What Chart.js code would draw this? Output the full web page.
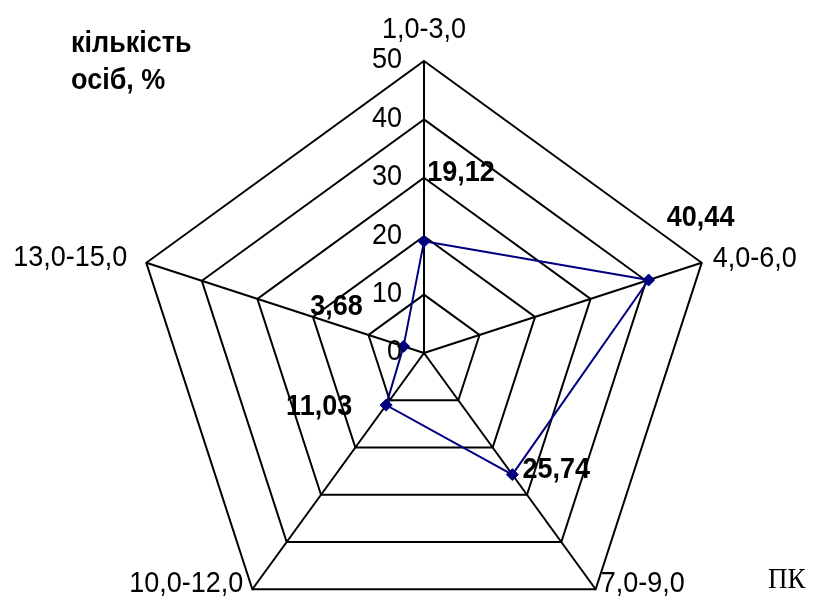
<!DOCTYPE html>
<html lang="uk">
<head>
<meta charset="utf-8">
<title>Розподіл за ПК</title>
<script src="https://cdn.jsdelivr.net/npm/chart.js@4/dist/chart.umd.min.js"></script>
<style>
    html, body {
        margin: 0;
        padding: 0;
        background: #ffffff;
        overflow: hidden;
    }
    #wrap {
        position: relative;
        width: 816px;
        height: 610px;
        overflow: hidden;
    }
    #pk-chart {
        position: absolute;
        left: 0;
        top: 0;
    }
</style>
</head>
<body>
<div id="wrap">
    <canvas id="pk-chart" width="816" height="706"></canvas>
</div>
<script>
const categories = ['1,0-3,0', '4,0-6,0', '7,0-9,0', '10,0-12,0', '13,0-15,0'];
const shares = [19.12, 40.44, 25.74, 11.03, 3.68];
const tickValues = [0, 10, 20, 30, 40, 50];

const axisTitle = ['кількість', 'осіб, %'];
const unitTitle = 'ПК';

const SANS = '"Liberation Sans", Arial, sans-serif';
const SERIF = '"Liberation Serif", "Times New Roman", serif';
// glyphs are a little taller than they are wide
const TEXT_STRETCH = 1.12;

// where each category caption sits relative to its outer vertex
const categoryLabelOffsets = [
    { dx: 0, dy: -31, align: 'center' },
    { dx: 11, dy: -4, align: 'left' },
    { dx: 5, dy: -6, align: 'left' },
    { dx: -9, dy: -6, align: 'right' },
    { dx: -19, dy: -5, align: 'right' },
];

// value captions, shifted from their markers
const valueLabelOffsets = [
    { dx: 37, dy: -69 },
    { dx: 52, dy: -62 },
    { dx: 44, dy: -5 },
    { dx: -67, dy: 2 },
    { dx: -67, dy: -40 },
];

function formatValue(value) {
    return value.toFixed(2).replace('.', ',');
}

function stretchedText(ctx, text, x, y) {
    ctx.save();
    ctx.translate(x, y);
    ctx.scale(1, TEXT_STRETCH);
    ctx.fillText(text, 0, 0);
    ctx.restore();
}

const textPlugin = {
    id: 'radarText',
    afterDraw(chart) {
        const { ctx } = chart;
        const scale = chart.scales.r;
        ctx.save();
        ctx.fillStyle = '#000000';
        ctx.textBaseline = 'middle';

        // tick values along the first spoke
        ctx.font = `27px ${SANS}`;
        ctx.textAlign = 'right';
        tickValues.forEach((value) => {
            const pos = scale.getPointPositionForValue(0, value);
            stretchedText(ctx, String(value), pos.x - 22, pos.y - 1);
        });

        // category captions at the outer vertices
        categories.forEach((label, index) => {
            const pos = scale.getPointPositionForValue(index, scale.max);
            const offset = categoryLabelOffsets[index];
            ctx.textAlign = offset.align;
            stretchedText(ctx, label, pos.x + offset.dx, pos.y + offset.dy);
        });

        // bold value captions
        const meta = chart.getDatasetMeta(0);
        ctx.font = `bold 27px ${SANS}`;
        ctx.textAlign = 'center';
        meta.data.forEach((point, index) => {
            const offset = valueLabelOffsets[index];
            stretchedText(ctx, formatValue(shares[index]), point.x + offset.dx, point.y + offset.dy);
        });

        // axis title, top left
        ctx.font = `bold 27px ${SANS}`;
        ctx.textAlign = 'left';
        stretchedText(ctx, axisTitle[0], 71, 44);
        stretchedText(ctx, axisTitle[1], 71, 81);

        // unit caption, bottom right
        ctx.font = `27px ${SERIF}`;
        stretchedText(ctx, unitTitle, 768, 580);

        ctx.restore();
    },
};

const canvas = document.getElementById('pk-chart');

// eslint-disable-next-line no-new
new Chart(canvas, {
    type: 'radar',
    data: {
        labels: categories,
        datasets: [
            {
                data: shares,
                borderColor: '#000080',
                backgroundColor: 'rgba(0, 0, 0, 0)',
                borderWidth: 2,
                fill: false,
                tension: 0,
                pointStyle: 'rectRot',
                pointRadius: 6,
                pointBackgroundColor: '#000080',
                pointBorderColor: '#000080',
                pointBorderWidth: 1,
            },
        ],
    },
    options: {
        responsive: false,
        animation: false,
        devicePixelRatio: 1,
        layout: {
            padding: { left: 132, right: 100, top: 61, bottom: 61 },
        },
        plugins: {
            legend: { display: false },
            tooltip: { enabled: false },
        },
        scales: {
            r: {
                min: 0,
                max: 50,
                beginAtZero: true,
                ticks: {
                    stepSize: 10,
                    display: false,
                },
                pointLabels: {
                    display: false,
                },
                grid: {
                    circular: false,
                    color: '#000000',
                    lineWidth: 2,
                },
                angleLines: {
                    color: '#000000',
                    lineWidth: 2,
                },
            },
        },
    },
    plugins: [textPlugin],
});
</script>
</body>
</html>
